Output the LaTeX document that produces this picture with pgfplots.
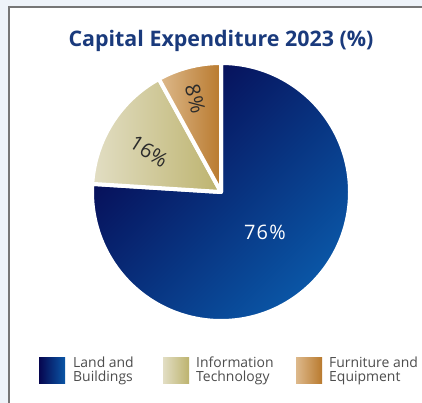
\documentclass[border=0pt]{standalone}
\usepackage{fontspec}
\setmainfont{Open Sans}
\usepackage{pgfplots}
\usepackage{pgfplotstable}
\pgfplotsset{compat=1.18}

\definecolor{bgblue}{HTML}{EEF3F9}
\definecolor{framegray}{HTML}{767676}
\definecolor{titleblue}{HTML}{1A3A7C}
\definecolor{txtgray}{HTML}{4D4D4D}
\definecolor{lbdark}{HTML}{06064F}
\definecolor{lblight}{HTML}{0A56A6}
\definecolor{itlight}{HTML}{E2DEC4}
\definecolor{itdark}{HTML}{BDB36E}
\definecolor{felight}{HTML}{DDB98C}
\definecolor{fedark}{HTML}{B97A2E}
\definecolor{lbltxt}{HTML}{2B2B2B}

% capital expenditure 2023, share in percent
\pgfplotstableread{
share
76
16
8
}\capex

\pgfplotstablegetelem{0}{share}\of\capex \let\va\pgfplotsretval
\pgfplotstablegetelem{1}{share}\of\capex \let\vb\pgfplotsretval
\pgfplotstablegetelem{2}{share}\of\capex \let\vc\pgfplotsretval

% angles, clockwise from the top
\pgfmathsetmacro\aO{90}
\pgfmathsetmacro\aA{\aO-3.6*\va}
\pgfmathsetmacro\aB{\aA-3.6*\vb}
\pgfmathsetmacro\aC{\aB-3.6*\vc}
\pgfmathsetmacro\mB{(\aA+\aB)/2}
\pgfmathsetmacro\mC{(\aB+\aC)/2}

\newcommand\slice[3]{%
  \shadedraw[#3, draw=white, line width=4bp, line join=round]
    (axis cs:0,0) -- (axis cs:{cos(#1)},{sin(#1)})
    arc[start angle=#1, end angle=#2, radius=129bp] -- cycle;}

\begin{document}
\begin{tikzpicture}
\path[use as bounding box] (0,0) rectangle (422bp,403bp);
\fill[bgblue] (0,0) rectangle (422bp,403bp);
\fill[white] (9bp,0) rectangle (422bp,396bp);
\draw[framegray, line width=1.5bp] (9bp,0) -- (9bp,396bp) -- (422bp,396bp);

\node[anchor=base, text=titleblue, font=\fontsize{21.5}{24}\selectfont\bfseries, inner sep=0]
  at (221bp,356bp) {Capital Expenditure 2023 (\%)};

\begin{axis}[
  at={(221bp,211bp)}, anchor=origin,
  x=129bp, y=129bp,
  xmin=-1.1, xmax=1.1, ymin=-1.1, ymax=1.1,
  hide axis, clip=false]
  \slice{\aO}{\aA}{left color=lbdark, right color=lblight, shading angle=45}
  \slice{\aA}{\aB}{left color=itlight, right color=itdark}
  \slice{\aB}{\aC}{left color=felight, right color=fedark}
  \node[text=white, font=\fontsize{20}{22}\selectfont\addfontfeature{LetterSpace=6}]
    at (axis cs:0.34,-0.31) {\va\%};
  \node[text=lbltxt, rotate=\mB+180, inner sep=0, font=\fontsize{20.5}{22}\selectfont]
    at (axis cs:{0.64*cos(\mB+3)},{0.64*sin(\mB+3)}) {\vb\%};
  \node[text=lbltxt, rotate=\mC+180, inner sep=0, font=\fontsize{20.5}{22}\selectfont]
    at (axis cs:{0.75*cos(\mC+1)},{0.75*sin(\mC+1)}) {\vc\%};
\end{axis}

% legend
\shade[left color=lbdark, right color=lblight] (39bp,19bp) rectangle (65bp,45bp);
\shade[left color=itlight, right color=itdark] (163bp,19bp) rectangle (189bp,45bp);
\shade[left color=felight, right color=fedark] (296bp,19bp) rectangle (322bp,45bp);
\tikzset{lg/.style={anchor=west, align=left, inner sep=0, text=txtgray,
  font=\fontsize{14}{13.5}\selectfont}}
\node[lg] at (73bp,32bp) {Land and\\Buildings};
\node[lg] at (196bp,32bp) {Information\\Technology};
\node[lg] at (329bp,32bp) {Furniture and\\Equipment};
\end{tikzpicture}
\end{document}
